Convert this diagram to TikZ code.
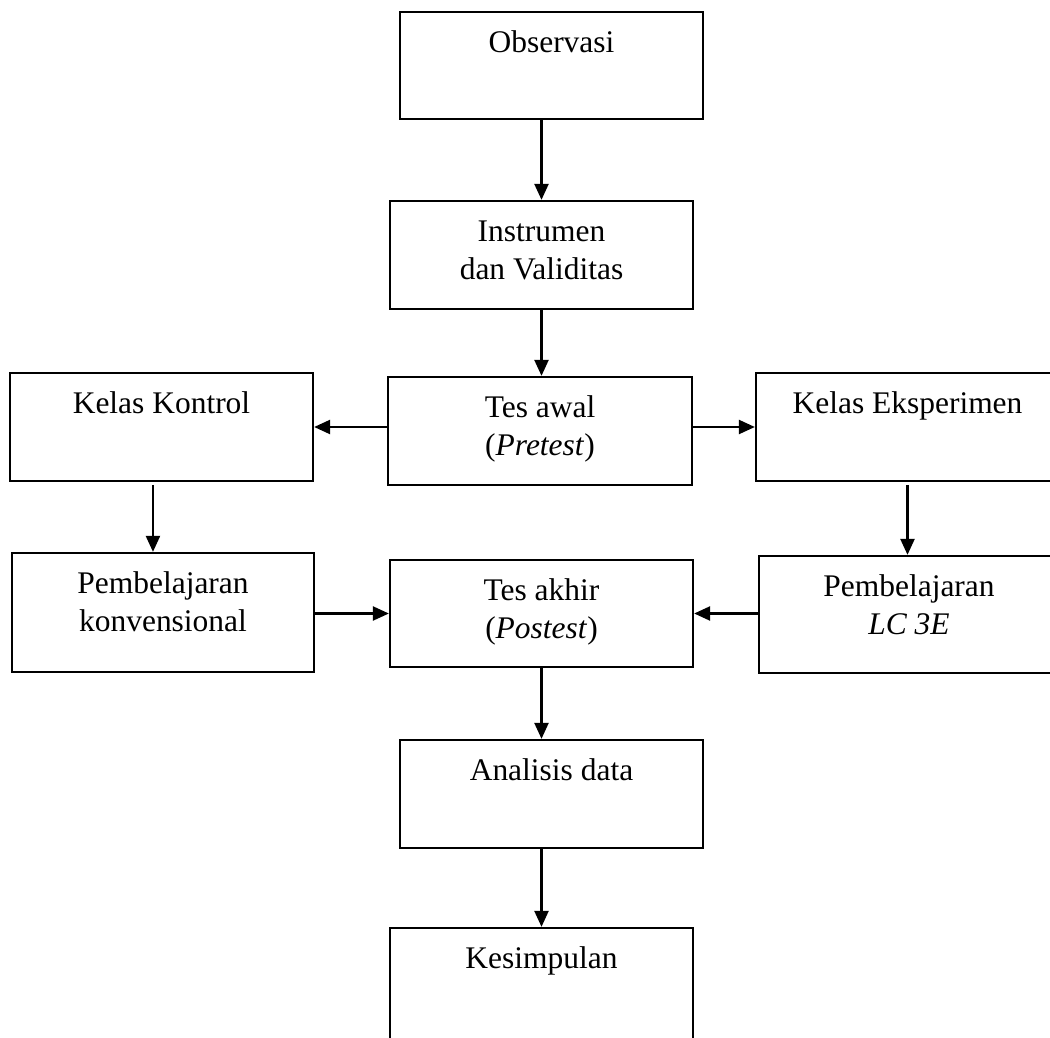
\documentclass[tikz,border=0pt]{standalone}
\usepackage{fontspec}
\setmainfont{Liberation Serif}
\usetikzlibrary{arrows.meta}
\tikzset{
  box/.style={draw=black, line width=1.7pt, rectangle, inner sep=0pt},
  lab/.style={inner sep=0pt, align=center, below=14pt,
    font=\fontsize{23.6}{28.5}\selectfont},
  arr/.style={line width=1.7pt, -{Triangle[length=12pt,width=10.5pt]}}
}
\newcommand{\st}{\rule{0pt}{17pt}}
\begin{document}
\begin{tikzpicture}[x=0.75pt,y=-0.75pt]
\clip (0,0) rectangle (1050,1038);
\fill[white] (0,0) rectangle (1050,1038);
\node[box, minimum width=303*0.75pt, minimum height=107*0.75pt,
  label={[lab]north:{\st Observasi}}] (obs) at (551.5,65.5) {};
\node[box, minimum width=303*0.75pt, minimum height=108*0.75pt,
  label={[lab]north:{\st Instrumen\\dan Validitas}}] (ins) at (541.5,255) {};
\node[box, minimum width=304*0.75pt, minimum height=108*0.75pt,
  label={[lab]north:{\st Tes awal\\(\textit{Pretest})}}] (pre) at (540,431) {};
\node[box, minimum width=303*0.75pt, minimum height=108*0.75pt,
  label={[lab]north:{\st Kelas Kontrol}}] (kon) at (161.5,427) {};
\node[box, minimum width=303*0.75pt, minimum height=108*0.75pt,
  label={[lab]north:{\st Kelas Eksperimen}}] (eks) at (907.5,427) {};
\node[box, minimum width=302*0.75pt, minimum height=119*0.75pt,
  label={[lab]north:{\st Pembelajaran\\konvensional}}] (konv) at (163,612.5) {};
\node[box, minimum width=303*0.75pt, minimum height=107*0.75pt,
  label={[lab]north:{\st Tes akhir\\(\textit{Postest})}}] (post) at (541.5,613.5) {};
\node[box, minimum width=300*0.75pt, minimum height=117*0.75pt,
  label={[lab]north:{\st Pembelajaran\\\textit{LC 3E}}}] (lc) at (909,614.5) {};
\node[box, minimum width=303*0.75pt, minimum height=108*0.75pt,
  label={[lab]north:{\st Analisis data}}] (ana) at (551.5,794) {};
\node[box, minimum width=303*0.75pt, minimum height=120*0.75pt,
  label={[lab]north:{\st Kesimpulan}}] (kes) at (541.5,988) {};

\draw[arr] (ins.north |- obs.south) -- (ins.north);
\draw[arr] (ins.south) -- (ins.south |- pre.north);
\draw[arr] (pre.west |- kon.east) -- (kon.east);
\draw[arr] (pre.east |- eks.west) -- (eks.west);
\draw[arr] ([xshift=-6.4pt,yshift=-2pt]kon.south) -- ([xshift=-6.4pt]kon.south |- konv.north);
\draw[arr] ([yshift=-2pt]eks.south) -- (eks.south |- lc.north);
\draw[arr] (konv.east |- post.west) -- (post.west);
\draw[arr] (lc.west |- post.east) -- (post.east);
\draw[arr] (post.south) -- (post.south |- ana.north);
\draw[arr] (ana.south -| kes.north) -- (kes.north);
\end{tikzpicture}
\end{document}
